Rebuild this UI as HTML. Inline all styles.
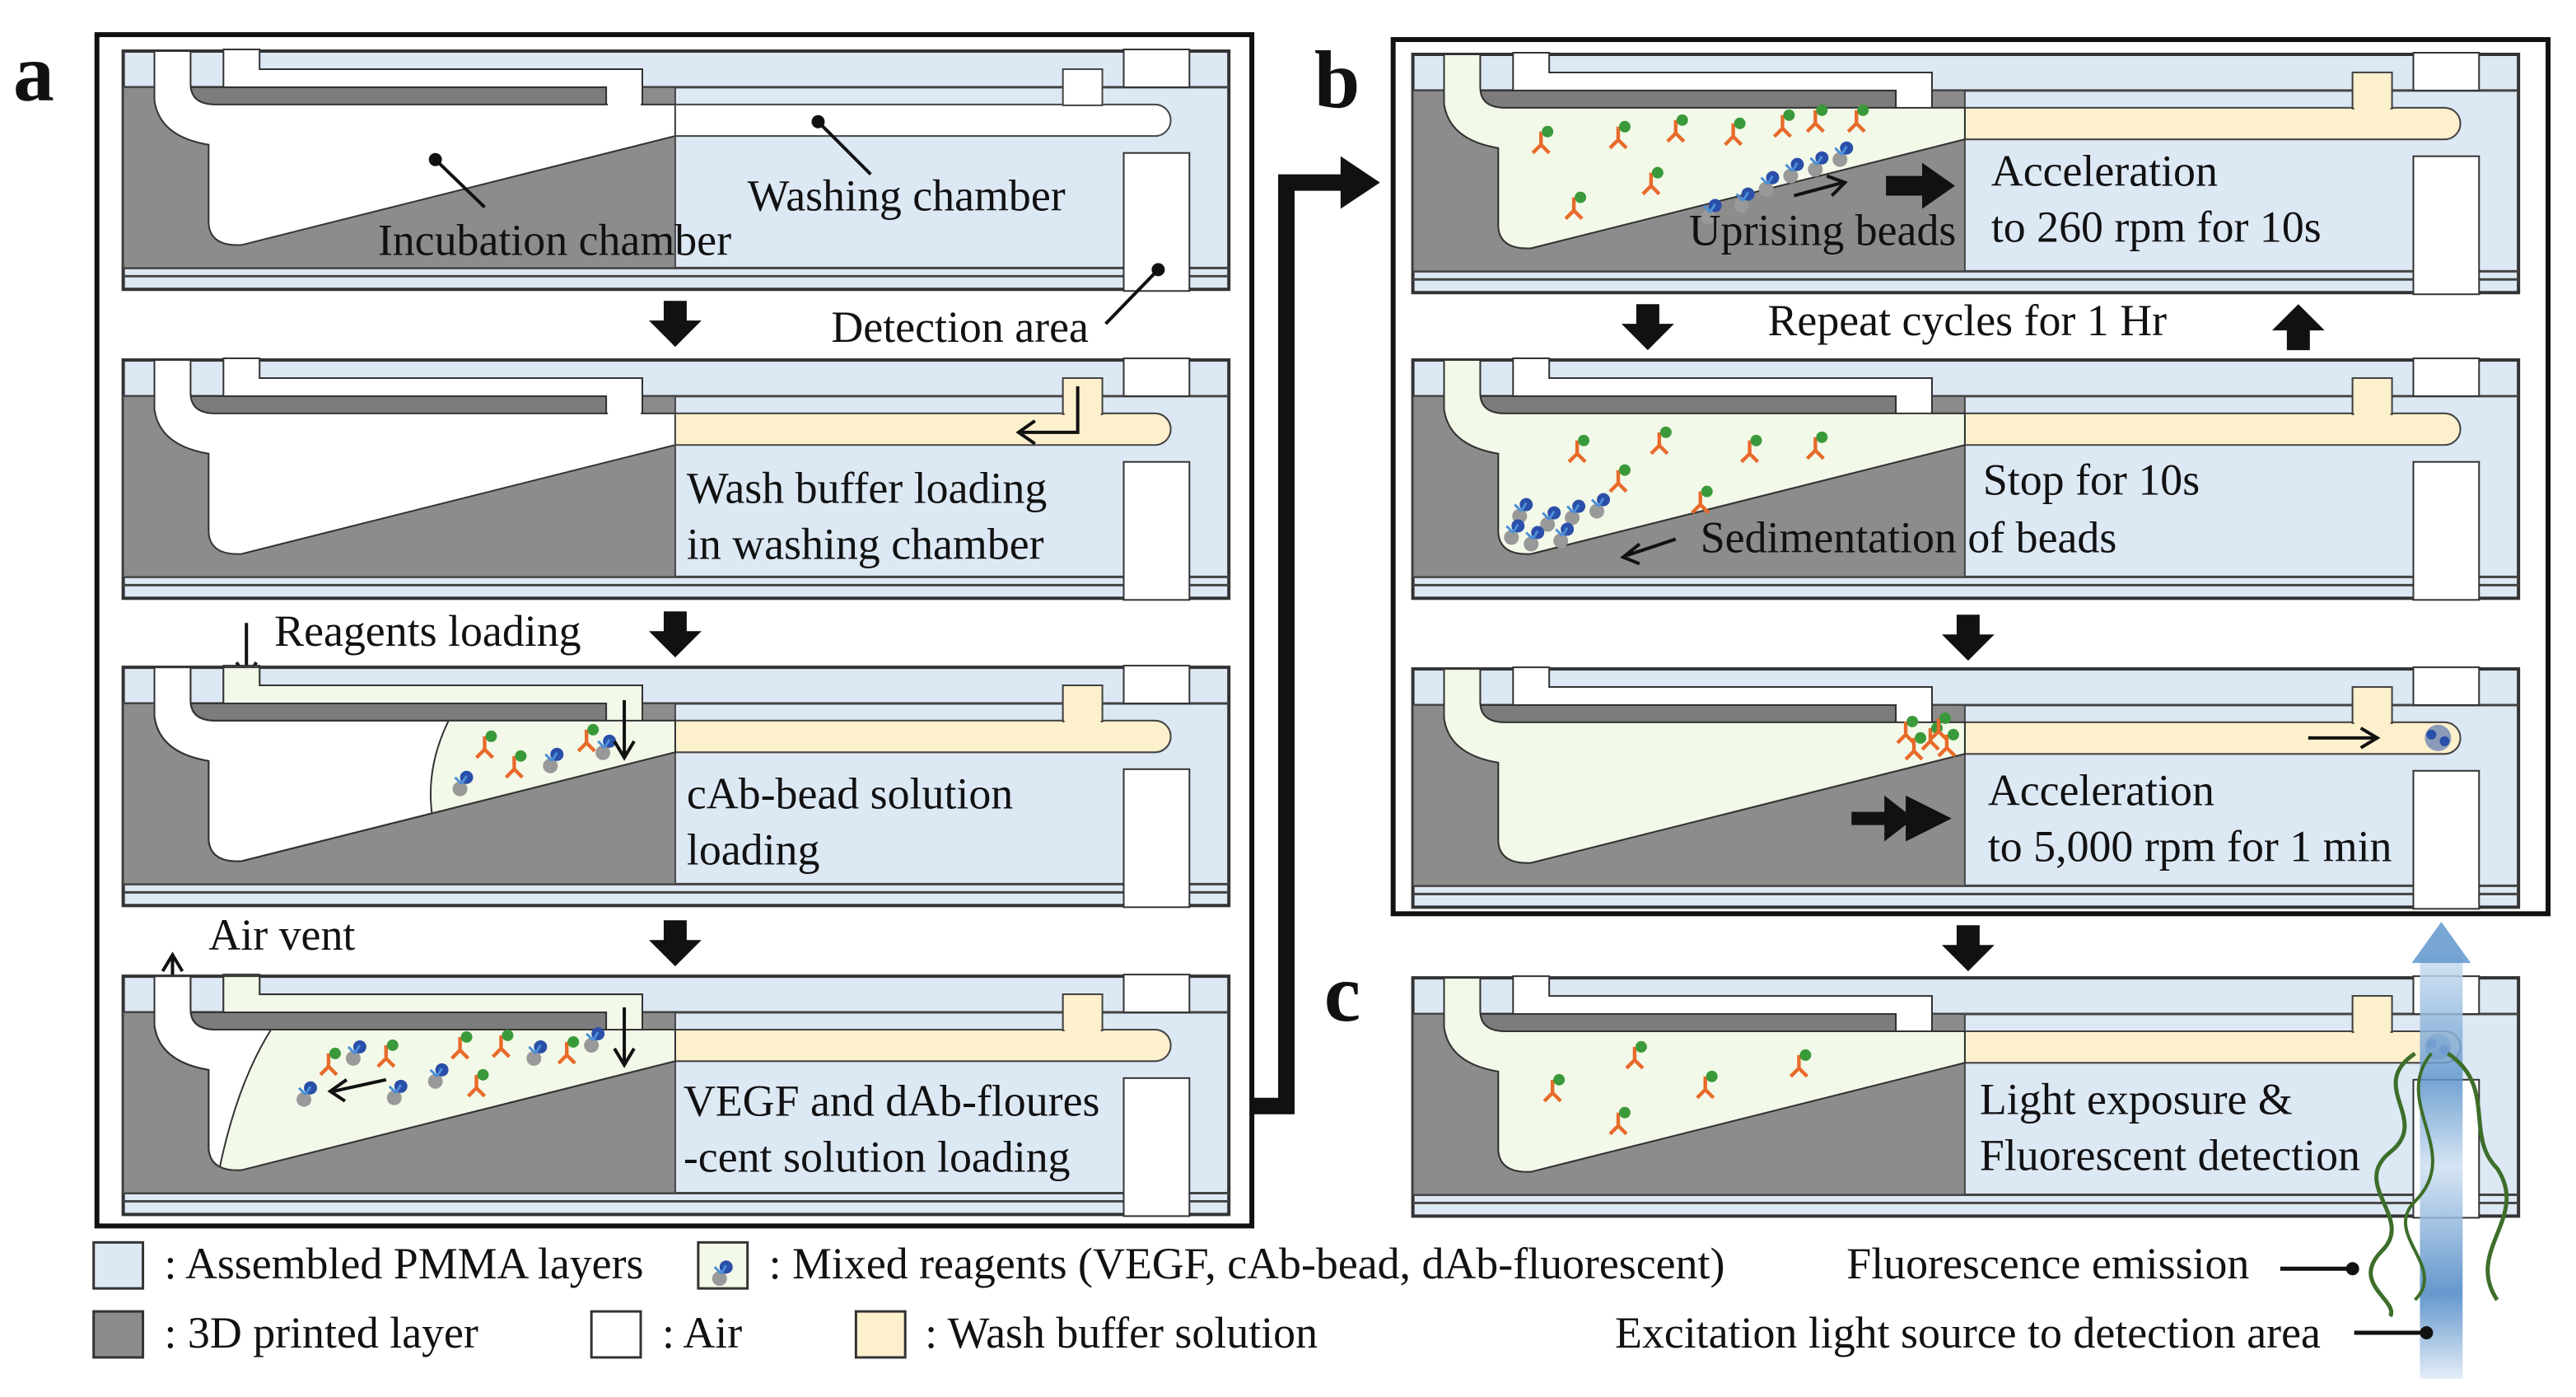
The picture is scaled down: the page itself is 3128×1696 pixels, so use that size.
<!DOCTYPE html>
<html><head><meta charset="utf-8"><style>
html,body{margin:0;padding:0;background:#fff;}
svg{display:block;}
text{font-family:"Liberation Serif","Times New Roman",serif;fill:#111;}
</style></head><body>
<svg width="3128" height="1696" viewBox="0 0 1568 848" xmlns="http://www.w3.org/2000/svg">
<defs>
<path id="ch" d="M19,0 H41 V20 Q41,32 55,32.5 H336 V51.7 L72,118 Q53,119 52,105 L52,57 Q22,52 19,30 Z"/>
<path id="chan" d="M336,32.5 H628 A9.6,9.6 0 0 1 628,51.7 H336 Z"/>
<clipPath id="chclip"><use href="#ch"/></clipPath>
<g id="dev">
 <rect x="0" y="0" width="673" height="145" fill="#dde8f5" stroke="#333" stroke-width="2"/>
 <line x1="0" y1="22" x2="673" y2="22" stroke="#444" stroke-width="1.5"/>
 <line x1="0" y1="132" x2="673" y2="132" stroke="#444" stroke-width="1.5"/>
 <line x1="0" y1="137" x2="673" y2="137" stroke="#444" stroke-width="1.5"/>
 <rect x="0" y="22" width="336" height="110" fill="#8c8c8c" stroke="#444" stroke-width="1"/>
 <rect x="41" y="22" width="253" height="11" fill="#7c7c7c" stroke="#333" stroke-width="1"/>
 <path d="M61,-1 H83 V11 H316 V33 H294 V22 H61Z" fill="#fff" stroke="#333" stroke-width="1"/>
 <rect x="609" y="-1" width="40" height="23" fill="#fff" stroke="#333" stroke-width="1"/>
 <rect x="609" y="62" width="40" height="84" fill="#fff" stroke="#333" stroke-width="1"/>
 <use href="#ch" fill="#fff" stroke="#333" stroke-width="1"/>
 <use href="#chan" fill="#fff" stroke="#444" stroke-width="1"/>
 <rect x="572" y="11" width="24" height="22" fill="#fff" stroke="#444" stroke-width="1"/>
 <rect x="295" y="21" width="20" height="13" fill="#fff"/>
</g>
<g id="ychan">
 <use href="#chan" fill="#fdf0cc" stroke="#444" stroke-width="1"/>
 <rect x="572" y="11" width="24" height="22" fill="#fdf0cc" stroke="#444" stroke-width="1"/>
 <rect x="573" y="30" width="22" height="5" fill="#fdf0cc"/>
</g>
<g id="gtop"><path d="M61,0 H83 V11 H316 V33 H294 V22 H61Z" fill="#f3f9e8" stroke="#333" stroke-width="1"/></g>
<g id="ab"><path d="M0,0 L0,-8 M0,0 L-5,5 M0,0 L5,5" stroke="#e86a2a" stroke-width="2.2" fill="none"/><circle cx="4" cy="-8" r="3.5" fill="#3a9a3a"/></g>
<g id="bd"><circle r="4.5" fill="#999"/><circle cx="4" cy="-7" r="4" fill="#2a4fa8"/><path d="M1,-3 l-4,-4 M1,-3 l3,-5" stroke="#4a8fd8" stroke-width="1.5"/></g>
<linearGradient id="beam" x1="0" y1="0" x2="0" y2="1">
 <stop offset="0" stop-color="#cfe0f2"/><stop offset="0.3" stop-color="#5f96cc"/><stop offset="0.5" stop-color="#cfe0f2"/><stop offset="0.8" stop-color="#4a86c4"/><stop offset="1" stop-color="#dfeaf6"/>
</linearGradient>
</defs>

<rect x="59" y="20" width="703" height="725" fill="none" stroke="#111" stroke-width="3"/>
<rect x="848" y="23" width="703" height="532" fill="none" stroke="#111" stroke-width="3"/>
<text x="8" y="60" font-size="50" font-weight="bold">a</text>
<text x="800" y="64" font-size="50" font-weight="bold">b</text>
<text x="806" y="620" font-size="50" font-weight="bold">c</text>

<!-- a1 -->
<g transform="translate(75,30)"><use href="#dev"/></g>
<circle cx="265" cy="96" r="4" fill="#111"/><line x1="265" y1="96" x2="295" y2="125" stroke="#111" stroke-width="2"/>
<circle cx="498" cy="73" r="4" fill="#111"/><line x1="498" y1="73" x2="530" y2="105" stroke="#111" stroke-width="2"/>
<circle cx="705" cy="163" r="4" fill="#111"/><line x1="705" y1="163" x2="673" y2="196" stroke="#111" stroke-width="2"/>
<text x="230" y="154" font-size="27">Incubation chamber</text>
<text x="455" y="127" font-size="27">Washing chamber</text>
<text x="506" y="207" font-size="27">Detection area</text>

<!-- a2 -->
<g transform="translate(75,218)"><use href="#dev"/><use href="#ychan"/></g>
<path d="M656,234 V262 H622 M630,255 L620,262 L630,269" stroke="#111" stroke-width="2" fill="none"/>
<text x="418" y="305" font-size="27">Wash buffer loading</text>
<text x="418" y="339" font-size="27">in washing chamber</text>
<text x="167" y="392" font-size="27">Reagents loading</text>
<path d="M150,378 V410 M144,402 L150,412 L156,402" stroke="#111" stroke-width="2" fill="none"/>

<!-- a3 -->
<g transform="translate(75,405)"><use href="#dev"/><use href="#ychan"/><use href="#gtop"/>
 <g clip-path="url(#chclip)"><path d="M205,20 Q180,60 190,100 L340,100 L340,20 Z" fill="#f3f9e8" stroke="#333" stroke-width="1"/></g>
 <use href="#ch" fill="none" stroke="#333" stroke-width="1"/>
 <use href="#ab" x="220" y="50"/><use href="#bd" x="205" y="74"/><use href="#ab" x="238" y="62"/><use href="#bd" x="260" y="60"/><use href="#ab" x="282" y="46"/><use href="#bd" x="292" y="52"/>
</g>
<path d="M380,425 V458 M374,450 L380,460 L386,450" stroke="#111" stroke-width="2" fill="none"/>
<text x="418" y="491" font-size="27">cAb-bead solution</text>
<text x="418" y="525" font-size="27">loading</text>
<text x="127" y="577" font-size="27">Air vent</text>
<path d="M105,612 V582 M99,590 L105,580 L111,590" stroke="#111" stroke-width="2" fill="none"/>

<!-- a4 -->
<g transform="translate(75,593)"><use href="#dev"/><use href="#ychan"/><use href="#gtop"/>
 <g clip-path="url(#chclip)"><path d="M95,25 Q70,60 58,120 L340,120 L340,20 Z" fill="#f3f9e8" stroke="#333" stroke-width="1"/></g>
 <use href="#ch" fill="none" stroke="#333" stroke-width="1"/>
 <use href="#bd" x="140" y="50"/><use href="#ab" x="160" y="50"/><use href="#bd" x="110" y="75"/><use href="#ab" x="205" y="45"/><use href="#bd" x="190" y="64"/><use href="#ab" x="230" y="44"/><use href="#bd" x="250" y="50"/><use href="#ab" x="270" y="48"/><use href="#bd" x="285" y="42"/><use href="#ab" x="215" y="68"/><use href="#bd" x="165" y="74"/><use href="#ab" x="125" y="55"/>
</g>
<path d="M380,612 V645 M374,637 L380,647 L386,637" stroke="#111" stroke-width="2" fill="none"/>
<path d="M235,656 L203,663 M211,656 L201,663 L210,669" stroke="#111" stroke-width="2" fill="none"/>
<text x="416" y="678" font-size="27">VEGF and dAb-floures</text>
<text x="416" y="712" font-size="27">-cent solution loading</text>

<g fill="#111">
 <path d="M404,182 h14 v12 h9 l-16,16 l-16,-16 h9z"/>
 <path d="M404,371 h14 v12 h9 l-16,16 l-16,-16 h9z"/>
 <path d="M404,559 h14 v12 h9 l-16,16 l-16,-16 h9z"/>
</g>

<path d="M762,672 H783 V110 H818" stroke="#111" stroke-width="10" fill="none"/>
<path d="M816,94 L840,110 L816,126 Z" fill="#111"/>

<!-- b1 -->
<g transform="translate(860,32)"><use href="#dev"/><use href="#ychan"/>
 <use href="#ch" fill="#f3f9e8" stroke="#333" stroke-width="1"/>
 <use href="#ab" x="78" y="55"/><use href="#ab" x="125" y="52"/><use href="#ab" x="160" y="48"/><use href="#ab" x="195" y="50"/><use href="#ab" x="225" y="45"/><use href="#ab" x="245" y="42"/><use href="#ab" x="270" y="42"/><use href="#ab" x="145" y="80"/><use href="#ab" x="98" y="95"/>
 <use href="#bd" x="180" y="99"/><use href="#bd" x="200" y="92"/><use href="#bd" x="215" y="82"/><use href="#bd" x="230" y="74"/><use href="#bd" x="245" y="70"/><use href="#bd" x="260" y="64"/>
</g>
<path d="M1092,118 L1122,110 M1112,106 L1123,110 L1115,118" stroke="#111" stroke-width="2" fill="none"/>
<path d="M1148,106 h22 v-8 l20,14 l-20,14 v-8 h-22z" fill="#111"/>
<text x="1028" y="148" font-size="27">Uprising beads</text>
<text x="1212" y="112" font-size="27">Acceleration</text>
<text x="1212" y="146" font-size="27">to 260 rpm for 10s</text>
<text x="1076" y="203" font-size="27">Repeat cycles for 1 Hr</text>
<path d="M996,184 h14 v12 h9 l-16,16 l-16,-16 h9z" fill="#111"/>
<path d="M1392,212 h14 v-12 h9 l-16,-16 l-16,16 h9z" fill="#111"/>

<!-- b2 -->
<g transform="translate(860,218)"><use href="#dev"/><use href="#ychan"/>
 <use href="#ch" fill="#f3f9e8" stroke="#333" stroke-width="1"/>
 <use href="#ab" x="100" y="57"/><use href="#ab" x="150" y="52"/><use href="#ab" x="205" y="57"/><use href="#ab" x="245" y="55"/><use href="#ab" x="125" y="75"/><use href="#ab" x="175" y="88"/>
 <use href="#bd" x="65" y="95"/><use href="#bd" x="82" y="100"/><use href="#bd" x="97" y="96"/><use href="#bd" x="112" y="92"/><use href="#bd" x="72" y="112"/><use href="#bd" x="60" y="108"/><use href="#bd" x="90" y="110"/>
</g>
<path d="M1020,327 L990,337 M998,330 L988,338 L998,342" stroke="#111" stroke-width="2" fill="none"/>
<text x="1207" y="300" font-size="27">Stop for 10s</text>
<text x="1035" y="335" font-size="27">Sedimentation of beads</text>
<path d="M1191,373 h14 v12 h9 l-16,16 l-16,-16 h9z" fill="#111"/>

<!-- b3 -->
<g transform="translate(860,406)"><use href="#dev"/><use href="#ychan"/>
 <use href="#ch" fill="#f3f9e8" stroke="#333" stroke-width="1"/>
 <use href="#ab" x="305" y="50"/><use href="#ab" x="315" y="44"/><use href="#ab" x="325" y="48"/><use href="#ab" x="300" y="40"/><use href="#ab" x="320" y="38"/>
 <circle cx="624" cy="42" r="8" fill="#8a9ab8"/><circle cx="620" cy="40" r="3" fill="#2a4fa8"/><circle cx="628" cy="44" r="3" fill="#2a4fa8"/>
</g>
<path d="M1405,448 H1445 M1437,442 L1447,448 L1437,454" stroke="#111" stroke-width="2" fill="none"/>
<path d="M1127,493 h20 v-10 l18,14 l-18,14 v-10 h-20z M1160,483 l28,14 l-28,14z" fill="#111"/>
<text x="1210" y="489" font-size="27">Acceleration</text>
<text x="1210" y="523" font-size="27">to 5,000 rpm for 1 min</text>
<path d="M1191,562 h14 v12 h9 l-16,16 l-16,-16 h9z" fill="#111"/>

<!-- c -->
<g transform="translate(860,594)"><use href="#dev"/><use href="#ychan"/>
 <use href="#ch" fill="#f3f9e8" stroke="#333" stroke-width="1"/>
 <use href="#ab" x="85" y="70"/><use href="#ab" x="135" y="50"/><use href="#ab" x="178" y="68"/><use href="#ab" x="235" y="55"/><use href="#ab" x="125" y="90"/>
 <circle cx="624" cy="42" r="8" fill="#8a9ab8"/><circle cx="620" cy="40" r="3" fill="#2a4fa8"/><circle cx="628" cy="44" r="3" fill="#2a4fa8"/>
</g>
<text x="1205" y="677" font-size="27">Light exposure &amp;</text>
<text x="1205" y="711" font-size="27">Fluorescent detection</text>

<rect x="1473" y="580" width="26" height="258" fill="url(#beam)" opacity="0.85"/>
<path d="M1468,585 L1486,560 L1504,585 Z" fill="#5f96cc" opacity="0.85"/>
<path d="M1470,640 C1440,660 1480,680 1455,700 C1430,720 1470,740 1450,760 C1430,780 1460,790 1455,800" stroke="#3d6e2a" stroke-width="2.5" fill="none"/>
<path d="M1490,640 C1520,660 1500,690 1520,710 C1540,740 1500,760 1520,790" stroke="#3d6e2a" stroke-width="2.5" fill="none"/>
<path d="M1480,640 C1455,670 1500,700 1470,730 C1450,750 1490,770 1470,790" stroke="#3d6e2a" stroke-width="2" fill="none"/>

<rect x="57" y="755" width="30" height="28" fill="#dde8f5" stroke="#333" stroke-width="1.5"/>
<text x="100" y="777" font-size="27">: Assembled PMMA layers</text>
<rect x="425" y="755" width="30" height="28" fill="#f3f9e8" stroke="#333" stroke-width="1.5"/>
<use href="#bd" x="438" y="777"/>
<text x="468" y="777" font-size="27">: Mixed reagents (VEGF, cAb-bead, dAb-fluorescent)</text>
<text x="1124" y="777" font-size="27">Fluorescence emission</text>
<line x1="1388" y1="771" x2="1432" y2="771" stroke="#111" stroke-width="2.5"/><circle cx="1432" cy="771" r="4" fill="#111"/>
<rect x="57" y="797" width="30" height="28" fill="#8c8c8c" stroke="#333" stroke-width="1.5"/>
<text x="100" y="819" font-size="27">: 3D printed layer</text>
<rect x="360" y="797" width="30" height="28" fill="#fff" stroke="#333" stroke-width="1.5"/>
<text x="403" y="819" font-size="27">: Air</text>
<rect x="521" y="797" width="30" height="28" fill="#fdf0cc" stroke="#333" stroke-width="1.5"/>
<text x="563" y="819" font-size="27">: Wash buffer solution</text>
<text x="983" y="819" font-size="27">Excitation light source to detection area</text>
<line x1="1433" y1="810" x2="1477" y2="810" stroke="#111" stroke-width="2.5"/><circle cx="1477" cy="810" r="4" fill="#111"/>
</svg>
</body></html>
